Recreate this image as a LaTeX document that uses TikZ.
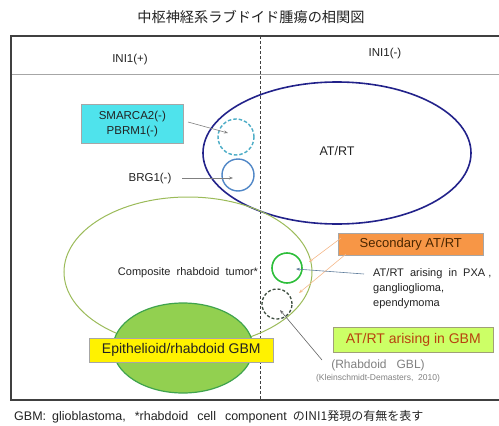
\documentclass[tikz,border=0pt]{standalone}
\usepackage{fontspec}
\setmainfont{Liberation Sans}
\newfontfamily\cjk{Noto Sans CJK JP}
\usetikzlibrary{arrows.meta,shapes.geometric}
\definecolor{navyline}{HTML}{22228A}
\definecolor{tealline}{HTML}{4BACC6}
\definecolor{blueline}{HTML}{4F86C6}
\definecolor{olivel}{HTML}{9BBB59}
\definecolor{gbmfill}{HTML}{92D050}
\definecolor{gbmline}{HTML}{3FA34D}
\definecolor{brightg}{HTML}{2DBE3A}
\definecolor{darkdash}{HTML}{3E4E40}
\definecolor{cyanbox}{HTML}{4FE3EC}
\definecolor{orangebox}{HTML}{F79646}
\definecolor{limebox}{HTML}{CCFF66}
\definecolor{limeline}{HTML}{A0A078}
\definecolor{browntext}{HTML}{4A2600}
\definecolor{redtext}{HTML}{B8420F}
\definecolor{peach}{HTML}{F5B88A}
\definecolor{frame}{HTML}{404040}
\definecolor{pxaline}{HTML}{5F7D9B}
\definecolor{gblline}{HTML}{646464}
\definecolor{txt}{HTML}{222222}
\tikzset{
  fs/.style={font=\fontsize{#1}{#1pt}\selectfont},
  labelbox/.style={draw=gray!70, line width=0.6pt, inner sep=0pt, anchor=north west},
  graytip/.style={-{Stealth[length=4pt,width=3pt]}, line width=0.6pt},
  every node/.style={text=txt},
}
\begin{document}
\begin{tikzpicture}[x=1pt,y=-1pt]
\useasboundingbox (0,0) rectangle (499,426);
% title
\node[font=\cjk\fontsize{14.2}{16}\selectfont] (title) at (251,17) {中枢神経系ラブドイド腫瘍の相関図};
% frame
\draw[gray!70, line width=0.8pt] (11,74) -- (499,74);
\draw[frame, line width=1.3pt] (499,36) -- (11,36) -- (11,400) -- (499,400);
\draw[frame, line width=0.6pt, dash pattern=on 3pt off 2pt] (260,36) -- (260,400);
\node[fs=11.5] (pos) at (130,60) {INI1(+)};
\node[fs=11.5] (neg) at (385,54) {INI1(-)};
% AT/RT
\node[draw=navyline, line width=1.6pt, ellipse, minimum width=268, minimum height=142, inner sep=0pt] (atrt) at (337,153) {};
\node[fs=12.5] (atrtlab) at (337,151) {AT/RT};
\node[draw=tealline, line width=1.4pt, dash pattern=on 3.5pt off 2pt, circle, minimum size=36, inner sep=0pt] (smc) at (236,137) {};
\node[draw=blueline, line width=1.4pt, circle, minimum size=32, inner sep=0pt] (brgc) at (238,175) {};
\node[labelbox, fill=cyanbox, minimum width=102, minimum height=39] (smbox) at (81,104) {};
\node[align=center, font=\fontsize{11.5}{15}\selectfont] (smtext) at (smbox.center) {SMARCA2(-)\\PBRM1(-)};
\coordinate (smarrowstart) at (188,122);
\coordinate (smarrowend) at (228,133);
\draw[graytip, gray] (smarrowstart) -- (smarrowend);
\node[fs=11.5] (brgtext) at (150,179) {BRG1(-)};
\coordinate (brgstart) at (182,178);
\coordinate (brgend) at (233,178);
\draw[graytip, gray] (brgstart) -- (brgend);
% composite
\node[draw=olivel, line width=1pt, ellipse, minimum width=248, minimum height=150, inner sep=0pt] (comp) at (188,272) {};
\node[fs=11] (comptext) at (188,273) {Composite\ \ rhabdoid\ \ tumor*};
\node[draw=gbmline, line width=1.2pt, fill=gbmfill, ellipse, minimum width=140, minimum height=90, inner sep=0pt] (gbm) at (183,348) {};
\node[labelbox, fill=yellow, minimum width=184, minimum height=24] (epibox) at (89,338) {};
\node[fs=14] (epitext) at (epibox.center) {Epithelioid/rhabdoid GBM};
% small circles
\node[draw=brightg, line width=1.6pt, circle, minimum size=30, inner sep=0pt] (pxac) at (287,268) {};
\node[draw=darkdash, line width=1.3pt, dash pattern=on 3pt off 2pt, circle, minimum size=30, inner sep=0pt] (gblc) at (277,304) {};
% secondary
\node[labelbox, fill=orangebox, minimum width=145, minimum height=22] (secbox) at (338,233) {};
\node[fs=13, text=browntext] (sectext) at (secbox.center) {Secondary AT/RT};
\coordinate (sec1s) at (341,238);
\coordinate (sec1e) at (309,262);
\coordinate (sec2s) at (346,254);
\coordinate (sec2e) at (299,293);
\draw[graytip, peach] (sec1s) -- (sec1e);
\draw[graytip, peach] (sec2s) -- (sec2e);
% PXA text
\node[font=\fontsize{11}{15}\selectfont, align=left, anchor=north west, inner sep=0pt] (pxatext) at (373,268) {AT/RT\ \ arising\ \ in\ \ PXA\ ,\\ganglioglioma,\\ependymoma};
\coordinate (pxas) at (364,274);
\coordinate (pxae) at (296,269);
\draw[graytip, pxaline] (pxas) -- (pxae);
% GBM arising
\node[labelbox, fill=limebox, draw=limeline, minimum width=160, minimum height=25] (gbmbox) at (333,327) {};
\node[fs=14, text=redtext] (gbmtext) at (gbmbox.center) {AT/RT arising in GBM};
\node[fs=12, text=gray] (rgbl) at (378,365) {(Rhabdoid\ \ \ GBL)};
\node[fs=8.5, text=gray] (klein) at (378,378) {(Kleinschmidt-Demasters,\ \ 2010)};
\coordinate (rgs) at (322,360);
\coordinate (rge) at (280,310);
\draw[graytip, gblline] (rgs) -- (rge);
% footer
\node[anchor=west, inner sep=0pt, font=\fontsize{12.5}{14}\selectfont] (foot) at (14,417) {GBM:\hspace{6pt}glioblastoma,\hspace{9pt}*rhabdoid\hspace{9pt}cell\hspace{9pt}component\hspace{6pt}{\cjk\fontsize{12}{13}\selectfont のINI1発現の有無を表す}};
\end{tikzpicture}
\end{document}
